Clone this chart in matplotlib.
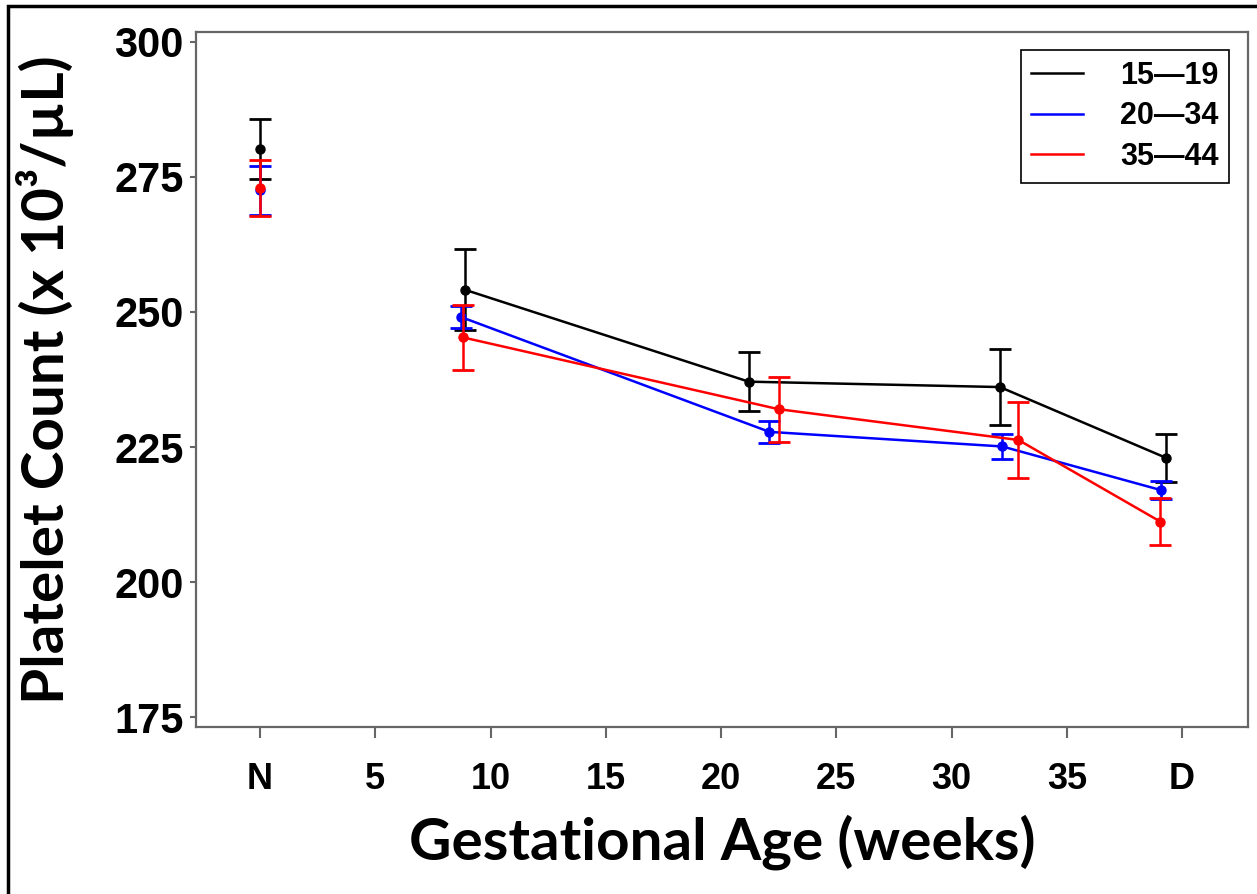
import matplotlib
matplotlib.use('Agg')
import matplotlib.pyplot as plt
from matplotlib.patches import Rectangle

# data
x_ticks = [0, 5, 10, 15, 20, 25, 30, 35, 40]
x_tick_labels = ['N', '5', '10', '15', '20', '25', '30', '35', 'D']
y_ticks = [175, 200, 225, 250, 275, 300]

groups = ['15\u201419', '20\u201434', '35\u201444']
colors = ['black', 'blue', 'red']

# non-pregnant (N) values, plotted alone at x = 0
n_mean = [280.2, 272.5, 273.0]
n_err = [5.5, 4.5, 5.2]

# gestational age per group (slightly dodged) and means / errors
weeks_1519 = [8.9, 21.2, 32.1, 39.3]
mean_1519 = [254.1, 237.1, 236.1, 223.0]
err_1519 = [7.5, 5.5, 7.0, 4.5]

weeks_2034 = [8.7, 22.1, 32.2, 39.1]
mean_2034 = [249.1, 227.8, 225.1, 217.0]
err_2034 = [2.0, 2.0, 2.4, 1.7]

weeks_3544 = [8.8, 22.5, 32.9, 39.05]
mean_3544 = [245.3, 232.0, 226.3, 211.2]
err_3544 = [6.0, 6.0, 7.0, 4.4]

weeks = [weeks_1519, weeks_2034, weeks_3544]
means = [mean_1519, mean_2034, mean_3544]
errs = [err_1519, err_2034, err_3544]

fig = plt.figure(figsize=(12.57, 8.94), dpi=100)
ax = fig.add_axes([196 / 1257, (894 - 727) / 894, (1248 - 196) / 1257, (727 - 32) / 894])

for i in range(3):
    ax.errorbar(weeks[i], means[i], yerr=errs[i], color=colors[i], lw=1.8,
                marker='o', ms=6.5, capsize=8, capthick=2, elinewidth=1.8,
                label=groups[i], zorder=3 + i)
    ax.errorbar([0], [n_mean[i]], yerr=[n_err[i]], color=colors[i], lw=1.8,
                marker='o', ms=6.5, capsize=8, capthick=2, elinewidth=1.8,
                zorder=3 + i)

ax.set_xlim(-2.78, 42.86)
ax.set_ylim(173.15, 301.85)
ax.set_xticks(x_ticks)
ax.set_xticklabels(x_tick_labels, fontsize=26, fontweight='bold', family='Liberation Sans')
ax.set_yticks(y_ticks)
ax.set_yticklabels([str(v) for v in y_ticks], fontsize=30, fontweight='bold',
                   family='Liberation Sans')
ax.tick_params(axis='x', length=8, width=1.5, color='#666666', pad=17)
ax.tick_params(axis='y', length=4, width=1.5, color='#666666', pad=5)
for s in ax.spines.values():
    s.set_color('#666666')
    s.set_linewidth(1.6)

ax.set_ylabel('Platelet Count (x 10\u00b3/\u00b5L)', fontsize=42, fontweight='bold',
              family='Lato')
ax.yaxis.set_label_coords(-0.116, 0.5)
ax.set_xlabel('Gestational Age (weeks)', fontsize=42, fontweight='bold', family='Lato')
ax.xaxis.set_label_coords(0.5, -0.125)

handles, labels = ax.get_legend_handles_labels()
handles = [h[0] for h in handles]
leg = ax.legend(handles, labels, loc='upper right', bbox_to_anchor=(0.982, 0.974),
                prop={'family': 'Liberation Sans', 'weight': 'bold', 'size': 22},
                frameon=True, fancybox=False, edgecolor='black', framealpha=1,
                handlelength=1.7, handletextpad=1.2, borderpad=0.35,
                labelspacing=0.35, borderaxespad=0)
leg.get_frame().set_linewidth(1.2)
for h in leg.legend_handles:
    h.set_marker('')
    h.set_linewidth(1.8)

# outer frame (left and top edges visible in the reference)
fig.add_artist(Rectangle((8 / 1257, -0.1), 1.2, (894 - 6) / 894 + 0.1, transform=fig.transFigure,
                         fill=False, edgecolor='black', linewidth=2.5))

fig.savefig('out.png', dpi=100)
